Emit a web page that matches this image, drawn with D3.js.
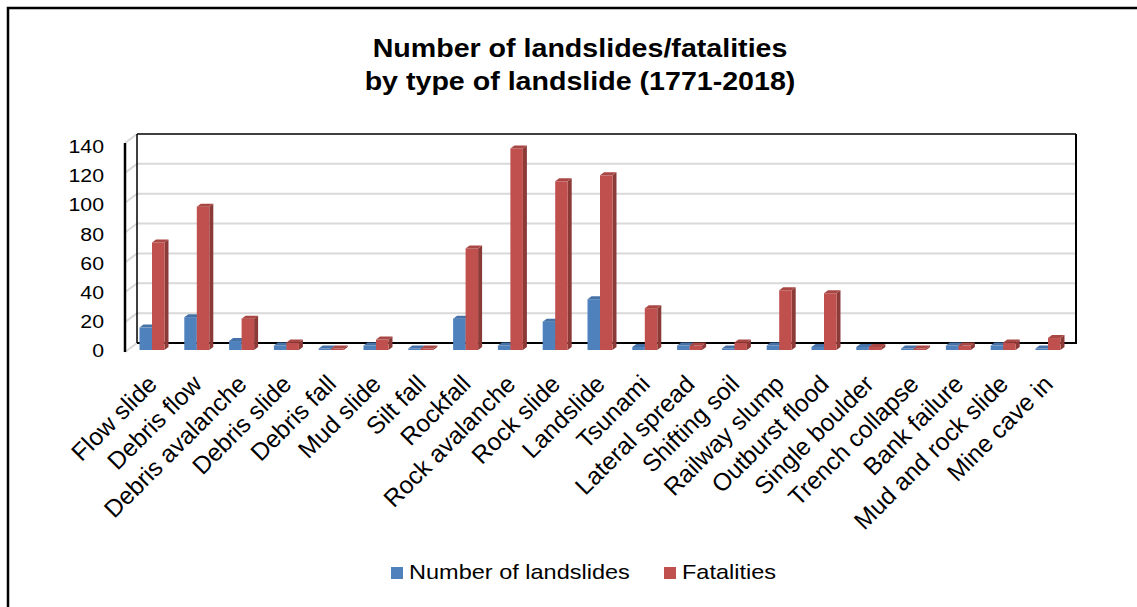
<!DOCTYPE html>
<html>
<head>
<meta charset="utf-8">
<script src="https://cdn.jsdelivr.net/npm/d3@7"></script>
<style>
  body { margin: 0; background: #fff; }
  svg { display: block; font-family: "Liberation Sans", Arial, sans-serif; }
</style>
</head>
<body>
<div id="chart"></div>
<script>
const categories = ["Flow slide", "Debris flow", "Debris avalanche", "Debris slide", "Debris fall",
    "Mud slide", "Silt fall", "Rockfall", "Rock avalanche", "Rock slide", "Landslide", "Tsunami",
    "Lateral spread", "Shifting soil", "Railway slump", "Outburst flood", "Single boulder",
    "Trench collapse", "Bank failure", "Mud and rock slide", "Mine cave in"];
const landslides = [15, 22, 6, 3, 1, 3, 1, 21, 3, 19, 34, 2, 3, 1, 3, 2, 2, 1, 3, 3, 1];
const fatalities = [72, 96, 21, 5, 1, 7, 1, 68, 135, 113, 117, 28, 3, 5, 40, 38, 2, 1, 3, 5, 8];
const yTicks = [0, 20, 40, 60, 80, 100, 120, 140];
const seriesNames = ["Number of landslides", "Fatalities"];
const seriesColors = ["#4F81BD", "#C0504D"];

const W = 1137, H = 607;
const svg = d3.select("#chart").append("svg").attr("width", W).attr("height", H);

// chart border (runs off the right and bottom of the picture)
svg.append("path")
    .attr("d", `M8,${H + 5} L8,8 L${W + 5},8`)
    .attr("fill", "none").attr("stroke", "#000").attr("stroke-width", 2.5);

// title
const title = svg.append("g").attr("font-weight", "bold").attr("font-size", 26).attr("fill", "#000");
["Number of landslides/fatalities", "by type of landslide (1771-2018)"].forEach((t, i) => {
    title.append("text")
        .attr("transform", `translate(580,${57 + i * 33}) scale(1.1,1)`)
        .attr("text-anchor", "middle")
        .text(t);
});

// 3D walls: back wall scale and oblique depth offset
const depthX = 12, depthY = -9;
const xBack0 = 137, xBack1 = 1076;
const yBack = d3.scaleLinear().domain([0, 140]).range([343, 134]);
const yBar = d3.scaleLinear().domain([0, 140]).range([350, 141]);
const yLabel = d3.scaleLinear().domain([0, 140]).range([350, 146]);

const walls = svg.append("g");
yTicks.forEach(v => {
    if (v === 0) return;
    walls.append("line")
        .attr("x1", xBack0).attr("x2", xBack1)
        .attr("y1", yBack(v)).attr("y2", yBack(v))
        .attr("stroke", v === 140 ? "#404040" : "#D9D9D9").attr("stroke-width", 2);
});
yTicks.forEach(v => {
    walls.append("line")
        .attr("x1", xBack0 - depthX).attr("y1", yBack(v) - depthY)
        .attr("x2", xBack0).attr("y2", yBack(v))
        .attr("stroke", "#D9D9D9").attr("stroke-width", 2);
});
// floor back edge and right edge
walls.append("path")
    .attr("d", `M${xBack0},${yBack(0)} L${xBack1},${yBack(0)} L${xBack1},${yBack(140)}`)
    .attr("fill", "none").attr("stroke", "#000").attr("stroke-width", 2);
// left wall verticals
walls.append("line")
    .attr("x1", xBack0).attr("x2", xBack0).attr("y1", yBack(0)).attr("y2", yBack(140))
    .attr("stroke", "#000").attr("stroke-width", 1.5);
walls.append("line")
    .attr("x1", xBack0 - depthX).attr("x2", xBack0 - depthX)
    .attr("y1", yBack(0) - depthY).attr("y2", yBack(140) - depthY)
    .attr("stroke", "#000").attr("stroke-width", 2.5);

// y axis labels
const yAxis = svg.append("g")
    .call(d3.axisLeft(yLabel).tickValues(yTicks).tickSize(0).tickPadding(0));
yAxis.select(".domain").remove();
yAxis.selectAll(".tick text")
    .attr("font-family", "Liberation Sans, Arial, sans-serif")
    .attr("font-size", 19).attr("fill", "#000")
    .attr("x", 0).attr("dy", "0.35em")
    .attr("transform", "translate(104,0) scale(1.12,1)");

// bars
const x = d3.scaleBand().domain(categories).range([129.6, 1070.4]);
const barW = 12.5, topDx = 4, topDy = -3;
const series = [landslides, fatalities];

const bars = svg.append("g");
categories.forEach((cat, i) => {
    const cx = x(cat) + x.bandwidth() / 2;
    series.forEach((vals, s) => {
        const x0 = cx - barW + s * barW;
        const y0 = yBar(vals[i]), yb = yBar(0);
        const col = d3.color(seriesColors[s]);
        // side face
        bars.append("path")
            .attr("d", `M${x0 + barW},${yb} L${x0 + barW + topDx},${yb + topDy} L${x0 + barW + topDx},${y0 + topDy} L${x0 + barW},${y0} Z`)
            .attr("fill", col.darker(0.9));
        // front face
        bars.append("rect")
            .attr("x", x0).attr("y", y0)
            .attr("width", barW).attr("height", yb - y0)
            .attr("fill", col);
        // top face
        bars.append("path")
            .attr("d", `M${x0},${y0} L${x0 + topDx},${y0 + topDy} L${x0 + barW + topDx},${y0 + topDy} L${x0 + barW},${y0} Z`)
            .attr("fill", col.darker(0.35));
    });
});

// category labels
const labels = svg.append("g").attr("font-size", 24.5).attr("fill", "#000");
categories.forEach(cat => {
    const cx = x(cat) + x.bandwidth() / 2;
    labels.append("text")
        .attr("transform", `translate(${cx + 6.5},385.5) rotate(-45)`)
        .attr("text-anchor", "end")
        .text(cat);
});

// legend
const legendX = [391, 664];
const legend = svg.append("g").attr("font-size", 21).attr("fill", "#000");
seriesNames.forEach((name, s) => {
    legend.append("rect")
        .attr("x", legendX[s]).attr("y", 567).attr("width", 12).attr("height", 12)
        .attr("fill", seriesColors[s]);
    legend.append("text")
        .attr("transform", `translate(${legendX[s] + 18},579) scale(1.12,1)`)
        .text(name);
});
</script>
</body>
</html>
